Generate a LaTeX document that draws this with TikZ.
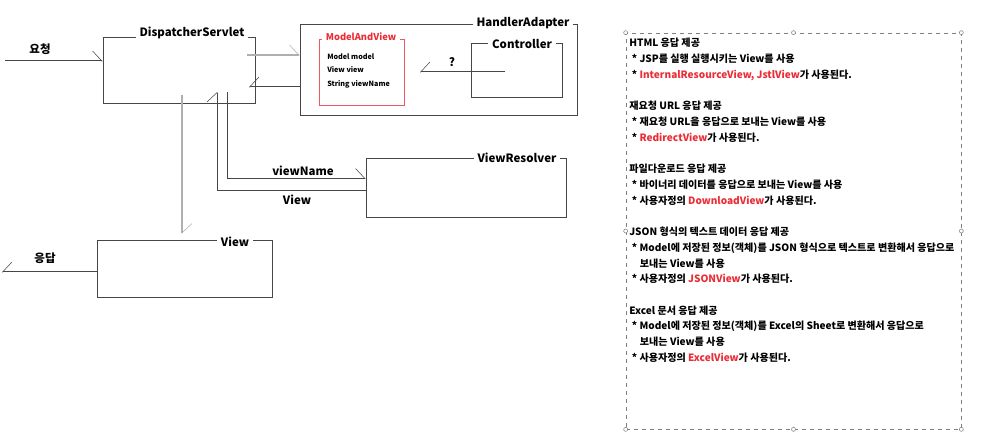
\documentclass[tikz,border=0pt]{standalone}
\usepackage{fontspec}
\setmainfont{Noto Sans CJK KR}
\usetikzlibrary{arrows.meta, positioning, fit, calc}
\definecolor{framegray}{RGB}{70,70,70}
\definecolor{wiregray}{RGB}{175,175,175}
\definecolor{mavred}{RGB}{235,45,55}

\begin{document}
\begin{tikzpicture}[
  x=0.75pt, y=-0.75pt,
  frame/.style={rectangle, draw=framegray, line width=0.75pt, inner sep=0pt},
  redframe/.style={frame, draw=mavred!80},
  title/.style={fill=white, inner xsep=3pt, inner ysep=1pt, font=\bfseries\fontsize{8.6}{10}\selectfont},
  member/.style={anchor=west, inner sep=0pt, font=\bfseries\fontsize{5.4}{6}\selectfont},
  wire/.style={draw=framegray, line width=0.75pt},
  lightwire/.style={draw=wiregray, line width=0.9pt},
  tipL/.style={-{Straight Barb[left, length=7pt, width=15pt, line width=0.4pt]}},
  tipR/.style={-{Straight Barb[right, length=7pt, width=15pt, line width=0.4pt]}},
  lbl/.style={font=\bfseries\fontsize{8.6}{10}\selectfont},
  memo/.style={rectangle, draw=gray, dashed, line width=0.5pt, inner sep=0pt},
  handle/.style={circle, draw=gray, fill=white, minimum size=3pt, inner sep=0pt, line width=0.4pt},
]
  \useasboundingbox[fill=white] (0,0) rectangle (982,445);

  % boxes
  \node[frame, fit={(103,38) (255,104)}] (ds) {};
  \node[title] at (192,33) {DispatcherServlet};
  \node[frame, fit={(300,25) (577,116)}] (ha) {};
  \node[title] at (523,23) {HandlerAdapter};
  \node[redframe, fit={(319,40) (404,106)}] (mav) {};
  \node[title, text=mavred, font=\bfseries\fontsize{7}{8}\selectfont] at (361,37) {ModelAndView};
  \node[member] (mmodel) at (327,57) {Model model};
  \node[member] (mview) at (327,70) {View view};
  \node[member] (mname) at (327,84) {String viewName};
  \node[frame, fit={(471,44) (562,98)}] (ctl) {};
  \node[title] at (522,44) {Controller};
  \node[frame, fit={(366,159) (566,218)}] (vr) {};
  \node[title] at (517,158) {ViewResolver};
  \node[frame, fit={(97,241) (272,298)}] (vw) {};
  \node[title] at (235,242) {View};

  % request / response
  \coordinate (reqStart) at (5,61);
  \draw[wire, tipL] (reqStart) -- (reqStart -| ds.west);
  \node[lbl] at (40,49) {요청};
  \coordinate (respEnd) at (2,272);
  \draw[wire, tipR] (respEnd -| vw.west) -- (respEnd);
  \node[lbl] at (45,258) {응답};

  % dispatcher <-> handler adapter
  \coordinate (dsOut) at (247,55);
  \draw[lightwire, tipL] (dsOut) -- (dsOut -| ha.west);
  \coordinate (dsIn) at (249,87);
  \draw[wire, tipR] (dsIn -| ha.west) -- (dsIn);
  \coordinate (qEnd) at (505,72);
  \coordinate (qTip) at (420,72);
  \draw[wire, tipR] (qEnd) -- (qTip);
  \node[lbl] at (452,62) {?};

  % view resolver
  \coordinate (vnTop) at (227,92);
  \draw[wire, tipL] (vnTop) |- ($(vr.north west)+(0,20)$);
  \node[lbl] at (303,171) {viewName};
  \coordinate (vwTop) at (217,92);
  \draw[wire, tipL] ($(vr.north west)+(0,32)$) -| (vwTop);
  \node[lbl] at (297,200) {View};

  % render view
  \coordinate (dsDown) at (182,95);
  \draw[lightwire, tipL] (dsDown) -- ($(dsDown |- vw.north)+(0,-7)$);

  % memo panel
  \node[memo, fit={(626,33) (961,429)}] (memo) {};
  \foreach \a in {north west, north, north east, east, south east, south, south west, west}
    \node[handle] at (memo.\a) {};
  \node[anchor=north west, inner sep=0pt, align=left,
        font=\bfseries\fontsize{7.55}{11.8}\selectfont] (memotext) at (629,38) {%
    HTML 응답 제공\\
    \hspace{2pt}* JSP를 실행 실행시키는 View를 사용\\
    \hspace{2pt}* \textcolor{mavred}{InternalResourceView, JstlView}가 사용된다.\\[11.8pt]
    재요청 URL 응답 제공\\
    \hspace{2pt}* 재요청 URL을 응답으로 보내는 View를 사용\\
    \hspace{2pt}* \textcolor{mavred}{RedirectView}가 사용된다.\\[11.8pt]
    파일다운로드 응답 제공\\
    \hspace{2pt}* 바이너리 데이터를 응답으로 보내는 View를 사용\\
    \hspace{2pt}* 사용자정의 \textcolor{mavred}{DownloadView}가 사용된다.\\[11.8pt]
    JSON 형식의 텍스트 데이터 응답 제공\\
    \hspace{2pt}* Model에 저장된 정보(객체)를 JSON 형식으로 텍스트로 변환해서 응답으로\\
    \hspace{8pt}보내는 View를 사용\\
    \hspace{2pt}* 사용자정의 \textcolor{mavred}{JSONView}가 사용된다.\\[11.8pt]
    Excel 문서 응답 제공\\
    \hspace{2pt}* Model에 저장된 정보(객체)를 Excel의 Sheet로 변환해서 응답으로\\
    \hspace{8pt}보내는 View를 사용\\
    \hspace{2pt}* 사용자정의 \textcolor{mavred}{ExcelView}가 사용된다.};
\end{tikzpicture}
\end{document}
